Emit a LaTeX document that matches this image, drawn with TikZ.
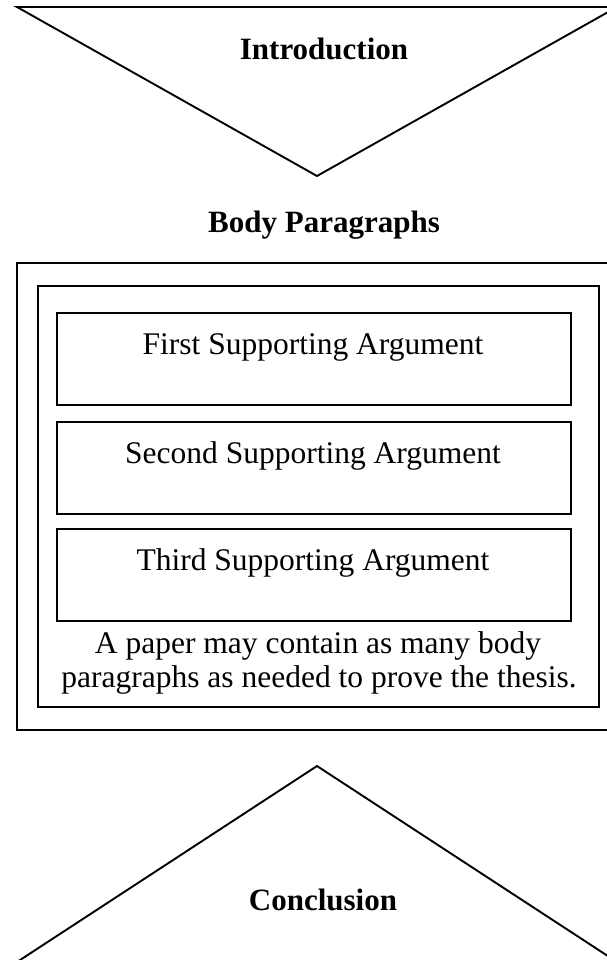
\documentclass[tikz,border=0pt]{standalone}
\usepackage{fontspec}
\setmainfont{Liberation Serif}
\begin{document}
\begin{tikzpicture}[x=1pt,y=-1pt,
  heading/.style={font=\fontsize{31}{36}\selectfont\bfseries, anchor=base, inner sep=0pt},
  plain/.style={font=\fontsize{31.5}{36}\selectfont, anchor=base, inner sep=0pt},
  argbox/.style={draw=black, line width=1.9pt, anchor=north west, minimum width=514pt, minimum height=92pt, inner sep=0pt},
  triline/.style={draw=black, line width=1.9pt, line join=miter}]
\clip (0,0) rectangle (607,960);
\fill[white] (0,0) rectangle (607,960);
% introduction triangle
\draw[triline] (17,7) -- (617,7) -- (317,176) -- cycle;
\node[heading] (intro) at (324,60) {Introduction};
% body paragraphs heading
\node[heading] (bodyhead) at (324,232) {Body Paragraphs};
% outer and inner frames
\draw[draw=black, line width=1.9pt] (17,263) rectangle (630,730);
\draw[draw=black, line width=2.4pt] (38,286) rectangle (599,707);
% argument boxes
\node[argbox] (first) at (56,312) {};
\node[argbox] (second) at (56,421) {};
\node[argbox] (third) at (56,528) {};
\node[plain] (firsttxt) at (313,354) {First Supporting Argument};
\node[plain] (secondtxt) at (313,463) {Second Supporting Argument};
\node[plain] (thirdtxt) at (313,570) {Third Supporting Argument};
\node[plain] (note1) at (318,653) {A paper may contain as many body};
\node[plain] (note2) at (319,687) {paragraphs as needed to prove the thesis.};
% conclusion triangle
\draw[triline] (317,766) -- (17,962) -- (617,962) -- cycle;
\node[heading] (concl) at (323,910) {Conclusion};
\end{tikzpicture}
\end{document}
